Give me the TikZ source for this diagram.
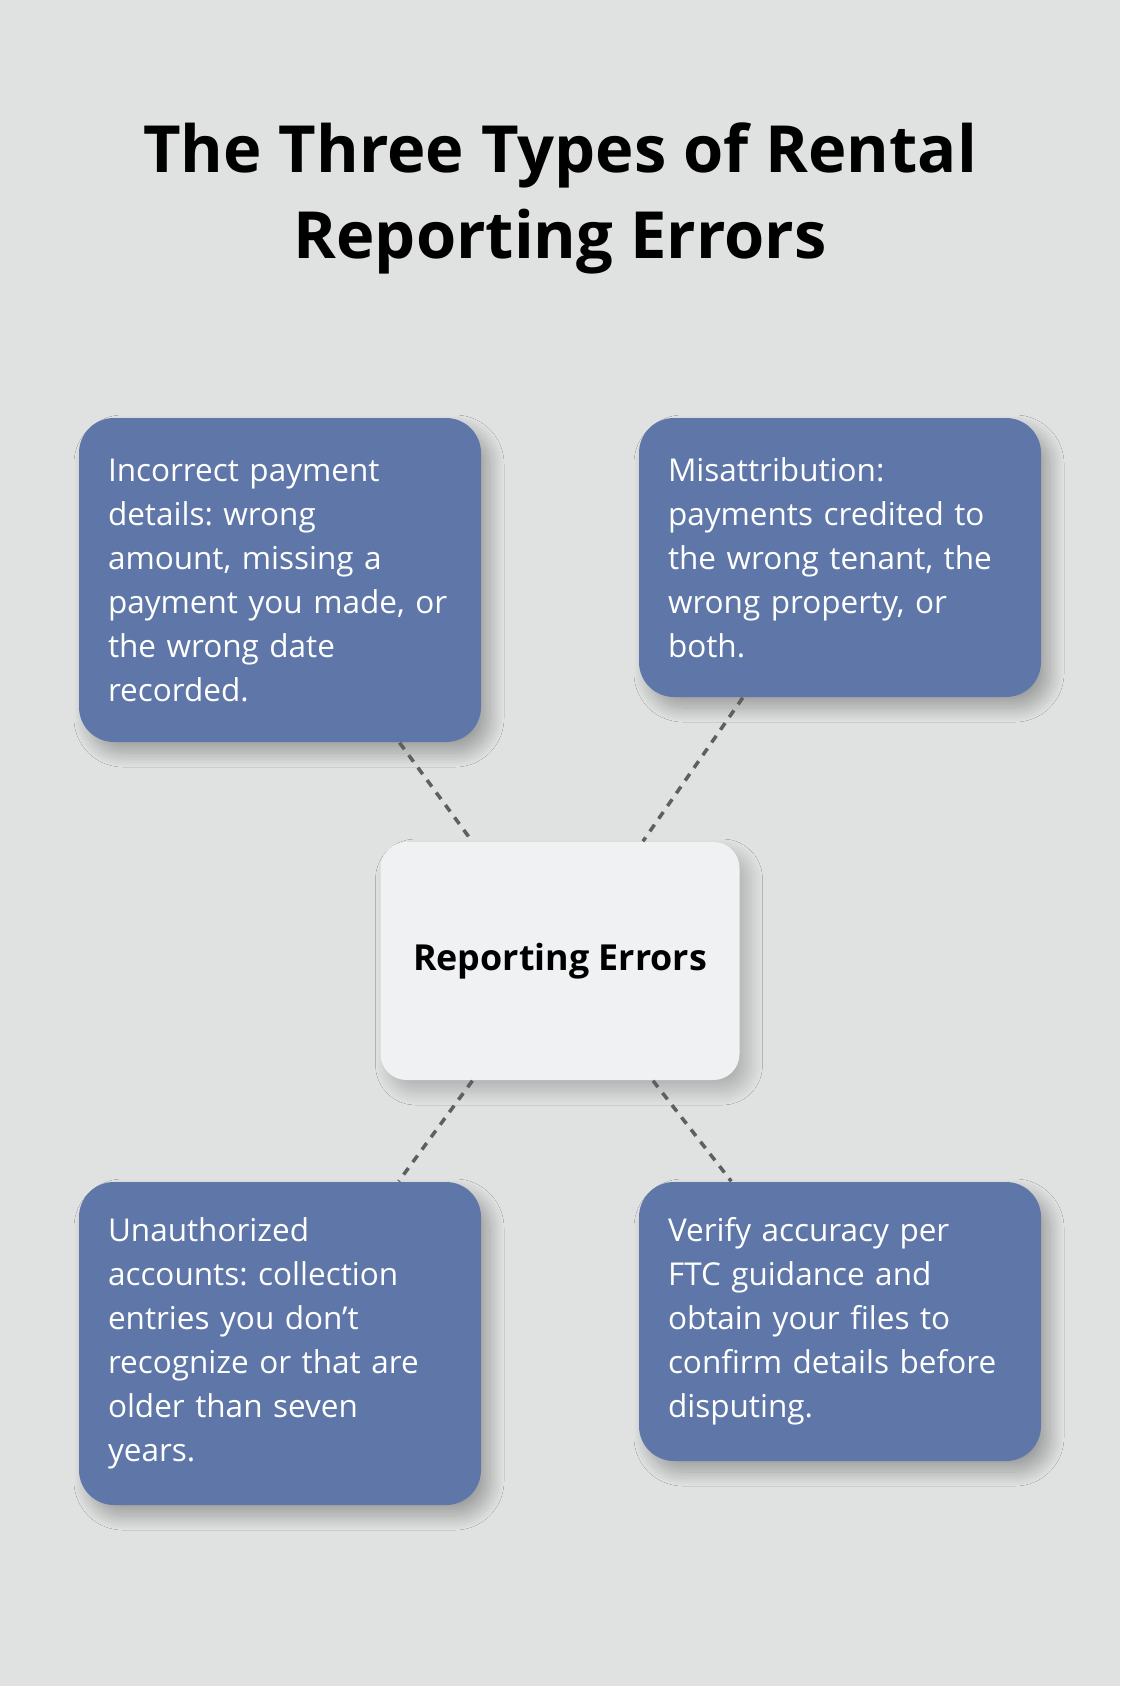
\documentclass[tikz,border=0pt]{standalone}
\usepackage{fontspec}
\setmainfont{Open Sans}
\usetikzlibrary{positioning,shadows.blur}

\definecolor{pagebg}{HTML}{E0E2E1}
\definecolor{cardblue}{HTML}{5E77A8}
\definecolor{hubfill}{HTML}{F0F1F3}
\definecolor{linkgray}{HTML}{5F5F5F}

\frenchspacing

\begin{document}
\begin{tikzpicture}[
    softshadow/.style={blur shadow={shadow xshift=0.09cm, shadow yshift=-0.11cm, shadow blur radius=0.14cm, shadow blur steps=24, shadow opacity=#1}},
    card/.style={fill=cardblue, rounded corners=0.35cm, text width=3.44cm, inner xsep=0.29cm, inner ysep=0pt, align=left, text=white, font=\fontsize{8.96}{12.52}\selectfont, softshadow=30},
    hub/.style={fill=hubfill, rounded corners=0.26cm, minimum width=3.59cm, minimum height=2.38cm, align=center, font=\bfseries\fontsize{10.2}{12}\selectfont, softshadow=22},
    link/.style={draw=linkgray, line width=1pt, dash pattern=on 2.3pt off 2.1pt},
]

% Page background
\fill[pagebg] (0,0) rectangle (11.2,-16.86);
\useasboundingbox (0,0) rectangle (11.2,-16.86);

% Title
\node[font=\bfseries\fontsize{18.5}{24.47}\selectfont, align=center] (title) at (5.6,-1.985) {The Three Types of Rental\\Reporting Errors};

% Central hub
\node[hub] (hub) at (5.6,-9.61) {Reporting Errors};

% Error cards
\node[card, minimum height=3.24cm] (payment) at (2.8,-5.80) {Incorrect payment\\details: wrong\\amount, missing a\\payment you made, or\\the wrong date\\recorded.};
\node[card, minimum height=2.79cm] (misattr) at (8.4,-5.575) {Misattribution:\\payments credited to\\the wrong tenant, the\\wrong property, or\\both.};
\node[card, minimum height=3.23cm] (unauth) at (2.8,-13.435) {Unauthorized\\accounts: collection\\entries you don’t\\recognize or that are\\older than seven\\years.};
\node[card, minimum height=2.79cm] (verify) at (8.4,-13.215) {Verify accuracy per\\FTC guidance and\\obtain your files to\\confirm details before\\disputing.};

% Dashed links to the hub
\draw[link] (payment) -- (hub);
\draw[link] (misattr) -- (hub);
\draw[link] (hub) -- (unauth);
\draw[link] (hub) -- (verify);

\end{tikzpicture}
\end{document}
